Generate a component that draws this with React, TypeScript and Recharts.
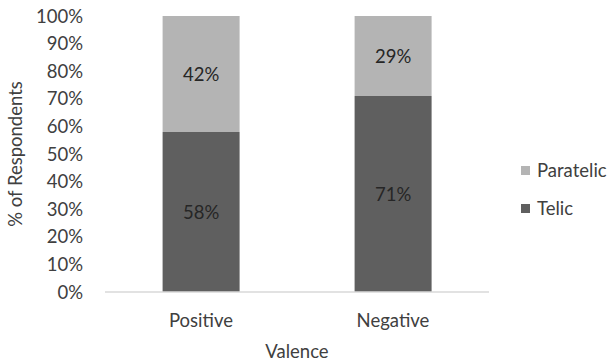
import React from "react";
import { BarChart, Bar, XAxis, YAxis, Legend, LabelList } from "recharts";

const categories = ["Positive", "Negative"];
const telic = [58, 71];
const paratelic = [42, 29];
const yTicks = [0, 10, 20, 30, 40, 50, 60, 70, 80, 90, 100];

const data = categories.map((name, i) => ({
  name,
  Telic: telic[i],
  Paratelic: paratelic[i],
}));

const FONT = "Lato, 'Open Sans', sans-serif";
const FS = 18.5;
const TEXT = "#404040";
const TELIC_COLOR = "#5f5f5f";
const PARATELIC_COLOR = "#b4b4b4";

const legendItems = [
  { label: "Paratelic", color: PARATELIC_COLOR },
  { label: "Telic", color: TELIC_COLOR },
];

const LegendContent = () => (
  <div style={{ fontFamily: FONT, fontSize: FS, color: TEXT }}>
    {legendItems.map((it) => (
      <div
        key={it.label}
        style={{ display: "flex", alignItems: "center", height: 38 }}
      >
        <span
          style={{
            width: 9,
            height: 9,
            background: it.color,
            display: "inline-block",
            marginRight: 7,
          }}
        />
        <span>{it.label}</span>
      </div>
    ))}
  </div>
);

export default function App() {
  return (
    <div style={{ position: "absolute", left: 0, top: 0 }}>
      <BarChart
        width={614}
        height={364}
        data={data}
        margin={{ top: 16, right: 125, left: 0, bottom: 0 }}
        barCategoryGap="30%"
      >
        <XAxis
          dataKey="name"
          height={72}
          tickLine={false}
          tickSize={0}
          tickMargin={22}
          axisLine={{ stroke: "#d9d9d9", strokeWidth: 1.5 }}
          tick={{ fill: TEXT, fontSize: FS, fontFamily: FONT }}
          label={{
            value: "Valence",
            position: "insideBottom",
            offset: 6,
            fill: TEXT,
            fontSize: FS,
            fontFamily: FONT,
          }}
        />
        <YAxis
          width={105}
          domain={[0, 100]}
          ticks={yTicks}
          interval={0}
          tickFormatter={(v: number) => `${v}%`}
          axisLine={false}
          tickLine={false}
          tickSize={0}
          tickMargin={22}
          tick={{ fill: TEXT, fontSize: FS, fontFamily: FONT }}
          label={{
            value: "% of Respondents",
            angle: -90,
            position: "insideLeft",
            offset: 15,
            style: { textAnchor: "middle" },
            fill: TEXT,
            fontSize: FS,
            fontFamily: FONT,
          }}
        />
        <Legend
          layout="horizontal"
          verticalAlign="middle"
          align="center"
          wrapperStyle={{ left: 521, top: 151, width: 100 }}
          content={<LegendContent />}
        />
        <Bar dataKey="Telic" stackId="a" fill={TELIC_COLOR} isAnimationActive={false}>
          <LabelList
            dataKey="Telic"
            position="center"
            formatter={(v: number) => `${v}%`}
            fill="#262626"
            fontSize={FS}
            fontFamily={FONT}
          />
        </Bar>
        <Bar dataKey="Paratelic" stackId="a" fill={PARATELIC_COLOR} isAnimationActive={false}>
          <LabelList
            dataKey="Paratelic"
            position="center"
            formatter={(v: number) => `${v}%`}
            fill="#262626"
            fontSize={FS}
            fontFamily={FONT}
          />
        </Bar>
      </BarChart>
    </div>
  );
}
